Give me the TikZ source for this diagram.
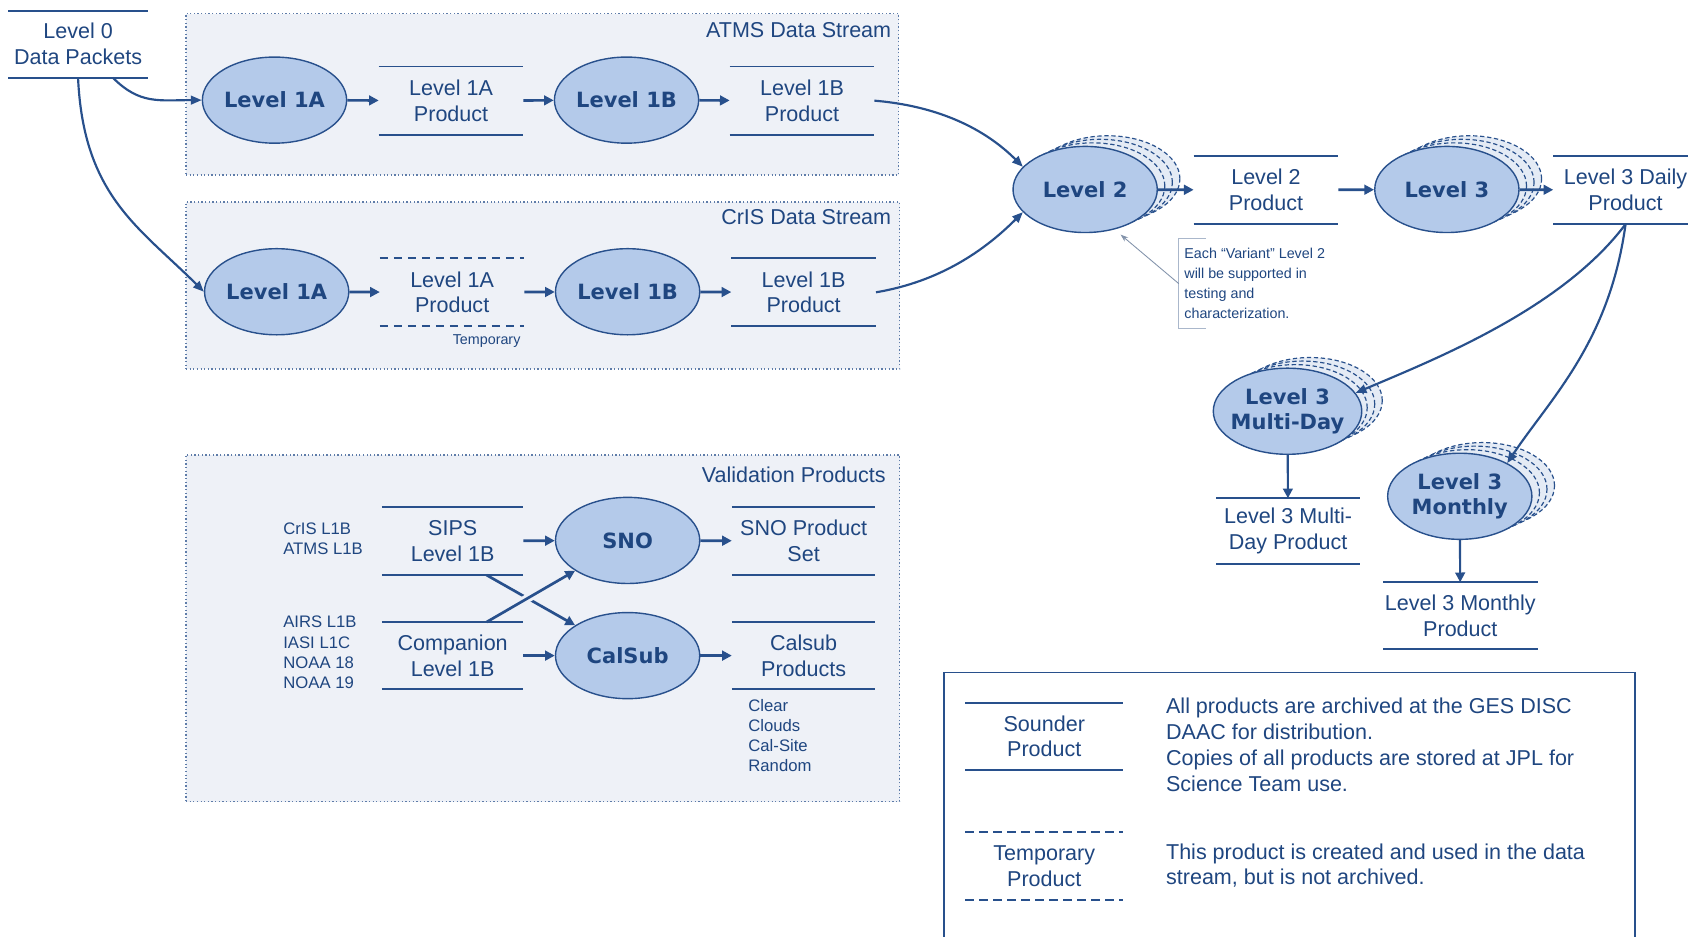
\documentclass[tikz,border=0pt]{standalone}
\usepackage{fontspec}
\setmainfont{Liberation Sans}
\newfontfamily\elfont{DejaVu Sans}
\usetikzlibrary{shapes.geometric,arrows.meta,calc}
\definecolor{dblue}{RGB}{31,70,128}
\definecolor{lblue}{RGB}{40,80,140}
\definecolor{efill}{RGB}{180,202,234}
\definecolor{gfill}{RGB}{238,241,247}
\definecolor{sfill}{RGB}{228,235,245}
\definecolor{agray}{RGB}{130,146,170}
\definecolor{bgray}{RGB}{170,183,203}
\begin{document}
\begin{tikzpicture}[x=1pt,y=-1pt,
  txt/.style={font=\fontsize{20}{24}\selectfont, align=center, text=dblue},
  pline/.style={draw=lblue, line width=1.8pt},
  tline/.style={draw=lblue, line width=1.8pt, dash pattern=on 8pt off 5pt},
  prod/.style={txt, minimum width=134pt, minimum height=63pt, inner sep=0pt,
    append after command={(\tikzlastnode.north west) edge[pline] (\tikzlastnode.north east)
      (\tikzlastnode.south west) edge[pline] (\tikzlastnode.south east)}},
  tprod/.style={txt, minimum width=134pt, minimum height=63pt, inner sep=0pt,
    append after command={(\tikzlastnode.north west) edge[tline] (\tikzlastnode.north east)
      (\tikzlastnode.south west) edge[tline] (\tikzlastnode.south east)}},
  proc/.style={ellipse, draw=lblue, line width=1.3pt, fill=efill, minimum width=134pt,
    minimum height=80pt, inner sep=0pt, align=center, text=dblue,
    font=\elfont\bfseries\fontsize{19.5}{24}\selectfont},
  stackel/.style={ellipse, draw=lblue, line width=1.1pt, fill=sfill, minimum width=134pt,
    minimum height=80pt, inner sep=0pt, dash pattern=on 4pt off 2.5pt},
  group/.style={rectangle, draw=lblue!75, line width=1.3pt, dash pattern=on 1.2pt off 2.2pt,
    fill=gfill, inner sep=0pt, anchor=north west},
  glabel/.style={txt, anchor=east, inner sep=0pt},
  small/.style={font=\fontsize{15.5}{18.7}\selectfont, align=left, text=dblue, inner sep=0pt, anchor=west},
  tiny/.style={font=\fontsize{13.3}{18.7}\selectfont, align=left, text=dblue, inner sep=0pt},
  arr/.style={draw=lblue, line width=2.5pt, -{Triangle[length=9pt,width=9pt]}},
  crv/.style={draw=lblue, line width=2pt, -{Triangle[length=10pt,width=8pt]}},
  annarr/.style={draw=agray, line width=0.8pt, -{Stealth[length=7pt,width=5pt]}},
  annline/.style={draw=bgray, line width=1pt},
  legtxt/.style={font=\fontsize{20}{24}\selectfont, align=left, text=dblue, inner sep=0pt, anchor=west},
]
\clip (0,0) rectangle (1568,870);
\fill[white] (0,0) rectangle (1568,870);

% groups
\node[group, minimum width=662pt, minimum height=150pt] (atms) at (172,12) {};
\node[group, minimum width=663pt, minimum height=155pt] (cris) at (172,187) {};
\node[group, minimum width=663pt, minimum height=322pt] (valid) at (172,422) {};
\node[glabel] (atmsl) at (828,28) {ATMS Data Stream};
\node[glabel] (crisl) at (828,202) {CrIS Data Stream};
\node[glabel] (validl) at (823,441) {Validation Products};

% level 0
\node[prod, minimum width=129pt, minimum height=62pt] (l0) at (72.5,41) {Level 0\\Data Packets};

% ATMS row
\node[proc] (a1a) at (255,93) {Level 1A};
\node[prod] (a1ap) at (419,93.5) {Level 1A\\Product};
\node[proc] (a1b) at (582,93) {Level 1B};
\node[prod] (a1bp) at (745,93.5) {Level 1B\\Product};

% CrIS row
\node[proc] (c1a) at (257,271) {Level 1A};
\node[tprod] (c1ap) at (420,271.5) {Level 1A\\Product};
\node[tiny] (tmp) at (452,317) {Temporary};
\node[proc] (c1b) at (583,271) {Level 1B};
\node[prod] (c1bp) at (746.5,271.5) {Level 1B\\Product};

% Level 2 / Level 3 chain
\coordinate (l2c) at (1008,176);
\coordinate (l3c) at (1344,176);
\coordinate (mdc) at (1196,382);
\coordinate (moc) at (1356,461);
\foreach \k in {3,2,1} {
  \node[stackel] (l2s\k) at ($(l2c)+(7*\k,-3.3*\k)$) {};
  \node[stackel] (l3s\k) at ($(l3c)+(7*\k,-3.3*\k)$) {};
  \node[stackel] (mds\k) at ($(mdc)+(7*\k,-3.3*\k)$) {};
  \node[stackel] (mos\k) at ($(moc)+(7*\k,-3.3*\k)$) {};
}
\node[proc] (l2) at (l2c) {Level 2};
\node[prod] (l2p) at (1176,176.5) {Level 2\\Product};
\node[proc] (l3) at (l3c) {Level 3};
\node[prod] (daily) at (1510,176.5) {Level 3 Daily\\Product};
\node[proc, inner xsep=-4pt] (md) at (mdc) {Level 3\\Multi-Day};
\node[prod, minimum width=133pt, minimum height=61pt] (mdp) at (1196.5,493.5) {Level 3 Multi-\\Day Product};
\node[proc, inner xsep=-4pt] (mo) at (moc) {Level 3\\Monthly};
\node[prod, minimum width=143pt, minimum height=62pt] (mop) at (1356.5,572) {Level 3 Monthly\\Product};

% annotation
\node[tiny, anchor=west, inner xsep=5pt, minimum height=83pt] (ann) at (1095,263.5)
  {Each “Variant” Level 2\\will be supported in\\testing and\\characterization.};
\draw[annline] ([xshift=25pt]ann.north west) -- (ann.north west) -- (ann.south west) -- ([xshift=25pt]ann.south west);
\coordinate (annT) at ($(l2c)+(33,42)$);
\draw[annarr] (ann.west) -- (annT);

% validation
\node[small] (src1) at (263,500.5) {CrIS L1B\\ATMS L1B};
\node[small] (src2) at (263,606) {AIRS L1B\\IASI L1C\\NOAA 18\\NOAA 19};
\node[prod, minimum width=131pt] (sips) at (420.5,502.5) {SIPS\\Level 1B};
\node[prod, minimum width=131pt, minimum height=62pt] (comp) at (420.5,609) {Companion\\Level 1B};
\node[proc] (sno) at (583,502) {SNO};
\node[proc] (cal) at (583,609) {CalSub};
\node[prod, minimum width=133pt] (snop) at (746.5,502.5) {SNO Product\\Set};
\node[prod, minimum width=133pt, minimum height=62pt] (calp) at (746.5,609) {Calsub\\Products};
\node[small] (calk) at (695,683) {Clear\\Clouds\\Cal-Site\\Random};

% legend
\node[rectangle, draw=lblue, line width=1.5pt, minimum width=642pt, minimum height=320pt, anchor=north west, inner sep=0pt] (leg) at (876,624) {};
\node[prod, minimum width=146pt, minimum height=62pt] (legs) at (970,684) {Sounder\\Product};
\node[tprod, minimum width=146pt, minimum height=63pt] (legt) at (970,804.5) {Temporary\\Product};
\node[legtxt] (legs2) at (1083,692) {All products are archived at the GES DISC\\DAAC for distribution.\\Copies of all products are stored at JPL for\\Science Team use.};
\node[legtxt] (legt2) at (1083,804) {This product is created and used in the data\\stream, but is not archived.};

% straight arrows
\draw[arr] (a1a) -- (a1ap);
\draw[arr] (a1ap) -- (a1b);
\draw[arr] (a1b) -- (a1bp);
\draw[arr] (c1a) -- (c1ap);
\draw[arr] (c1ap) -- (c1b);
\draw[arr] (c1b) -- (c1bp);
\draw[arr] (l2) -- (l2p);
\draw[arr] (l2p) -- (l3);
\draw[arr] (l3) -- (daily);
\draw[arr, line width=2pt] (md) -- (mdp);
\draw[arr, line width=2pt] (mo) -- (mop);
\draw[arr] (sips) -- (sno);
\draw[arr] (comp) -- (cal);
\draw[arr] (sno) -- (snop);
\draw[arr] (cal) -- (calp);
\coordinate (sipsx) at ($(sips.south west)!0.74!(sips.south east)$);
\coordinate (compx) at ($(comp.north west)!0.74!(comp.north east)$);
\draw[arr] (sipsx) -- (cal.150);
\draw[arr, preaction={draw=gfill, line width=8pt, -, shorten <=18pt, shorten >=18pt}] (compx) -- (sno.210);

% curved connectors
\coordinate (l0a) at ($(l0.south west)!0.75!(l0.south east)$);
\draw[crv] (l0a) .. controls +(25,25) and +(-40,0) .. (a1a.west);
\draw[crv] (l0.south) .. controls +(5,110) and +(-60,-60) .. (c1a.west);
\draw[crv] (a1bp.east) .. controls +(60,5) and +(-35,-35) .. (l2.160);
\draw[crv] (c1bp.east) .. controls +(60,-10) and +(-35,35) .. (l2.200);
\draw[crv] (daily.south) .. controls +(-60,80) and +(70,-30) .. (md.15);
\draw[crv] (daily.south) .. controls +(-15,110) and +(40,-60) .. (mo.35);
\end{tikzpicture}
\end{document}
